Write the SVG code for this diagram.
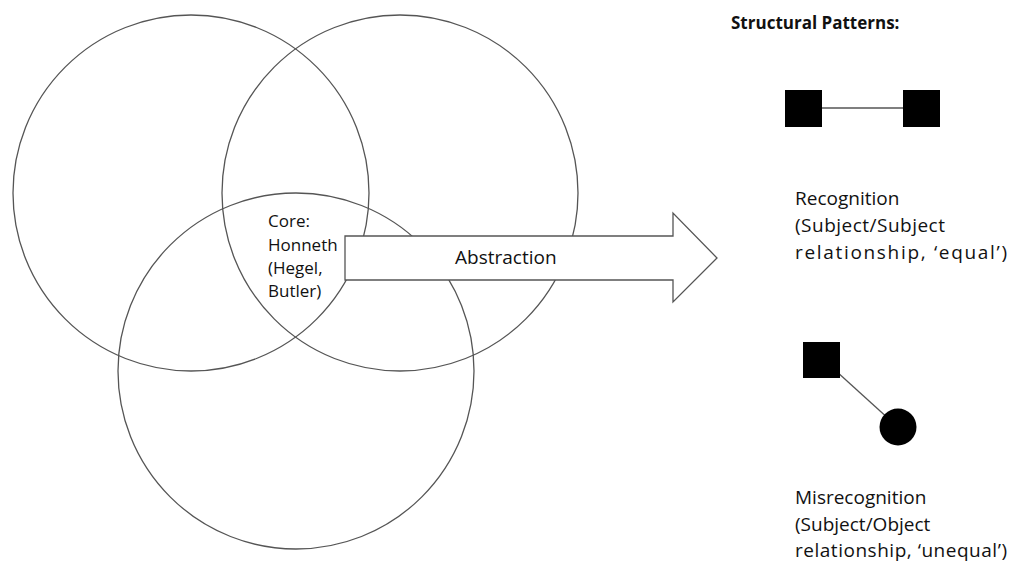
<svg xmlns="http://www.w3.org/2000/svg" width="1014" height="562" viewBox="0 0 1014 562">
<style>
.c{fill:none;stroke:#555;stroke-width:1.3}
.t{font-family:"Open Sans","Noto Sans","Liberation Sans",sans-serif;fill:#111}
.core{font-size:17px}
.lbl{font-size:19px}
.hd{font-size:17px;font-weight:bold}
.blk{fill:#000}
.ln{stroke:#555;stroke-width:1.3}
</style>
<rect width="1014" height="562" fill="#fff"/>
<g id="circle-left"><circle class="c" cx="191" cy="193" r="178"/></g>
<g id="circle-right"><circle class="c" cx="400" cy="193" r="178"/></g>
<g id="circle-bottom"><circle class="c" cx="296" cy="371" r="178"/></g>
<g id="core">
<text class="t core" x="268" y="227">Core:</text>
<text class="t core" x="268" y="251">Honneth</text>
<text class="t core" x="268" y="274">(Hegel,</text>
<text class="t core" x="268" y="297">Butler)</text>
</g>
<g id="connectors">
<path id="abstraction-arrow" d="M345,236 L673,236 L673,213 L717,258 L673,302 L673,280 L345,280 Z" fill="#fff" stroke="#555" stroke-width="1.3"/>
<line class="ln" x1="822" y1="108" x2="903" y2="108"/>
<line class="ln" x1="836" y1="371" x2="890" y2="420"/>
</g>
<g id="abstraction-label"><text class="t" x="455" y="264" font-size="19">Abstraction</text></g>
<g id="heading"><text class="t hd" x="731" y="29">Structural Patterns:</text></g>
<g id="recognition">
<rect class="blk" x="785" y="90" width="37" height="37"/>
<rect class="blk" x="903" y="90" width="37" height="37"/>
<text class="t lbl" x="795" y="205">Recognition</text>
<text class="t lbl" x="795" y="232" textLength="150" lengthAdjust="spacing">(Subject/Subject</text>
<text class="t lbl" x="795" y="259" textLength="212" lengthAdjust="spacing">relationship, ‘equal’)</text>
</g>
<g id="misrecognition">
<rect class="blk" x="803" y="342" width="37" height="36"/>
<circle class="blk" cx="898" cy="427" r="18.5"/>
<text class="t lbl" x="795" y="504">Misrecognition</text>
<text class="t lbl" x="795" y="531">(Subject/Object</text>
<text class="t lbl" x="795" y="557" textLength="212" lengthAdjust="spacing">relationship, ‘unequal’)</text>
</g>
</svg>
